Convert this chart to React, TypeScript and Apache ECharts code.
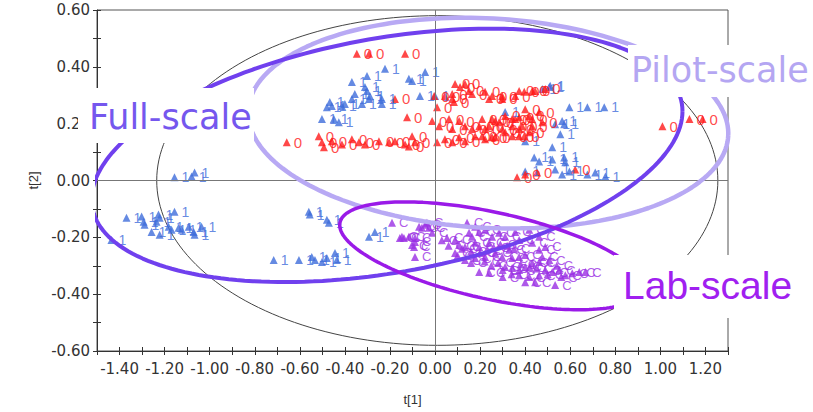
import React, { useEffect, useRef } from "react";
import * as echarts from "echarts";

// ---- Axis ranges / ticks ----
const xRange = [-1.5, 1.3];
const yRange = [-0.6, 0.6];
const tickStep = 0.1;

// ---- Group labels (marker text) ----
const fullLabel = "1";
const pilotLabel = "0";
const labLabel = "C";

// ---- Full-scale (blue) scores [t1, t2] ----
const fullScale: [number, number][] = [
  [-1.156, 0.011], [-1.08, 0.014], [-1.067, 0.028],
  [-1.369, -0.131], [-1.302, -0.127], [-1.293, -0.145], [-1.289, -0.156],
  [-1.236, -0.145], [-1.227, -0.12], [-1.222, -0.131],
  [-1.258, -0.181], [-1.222, -0.191],
  [-1.182, -0.163], [-1.169, -0.173], [-1.156, -0.11],
  [-1.138, -0.166], [-1.124, -0.173], [-1.093, -0.163], [-1.071, -0.181], [-1.067, -0.191],
  [-1.036, -0.163], [-1.436, -0.209],
  [-0.56, -0.11], [-0.556, -0.12], [-0.48, -0.138], [-0.471, -0.149],
  [-0.293, -0.198], [-0.267, -0.181],
  [-0.716, -0.28], [-0.604, -0.28], [-0.547, -0.269], [-0.533, -0.28], [-0.502, -0.287],
  [-0.48, -0.273], [-0.444, -0.255], [-0.436, -0.28],
  [-0.222, 0.393], [-0.302, 0.368], [-0.116, 0.358], [-0.102, 0.35], [-0.044, 0.382],
  [-0.369, 0.347], [-0.311, 0.329], [-0.302, 0.315], [-0.356, 0.304], [-0.369, 0.287],
  [-0.289, 0.297], [-0.293, 0.287], [-0.467, 0.276], [-0.48, 0.258], [-0.458, 0.262],
  [-0.413, 0.262], [-0.4, 0.269], [-0.324, 0.269], [-0.236, 0.287], [-0.236, 0.269],
  [-0.502, 0.216], [-0.449, 0.216], [-0.427, 0.205], [-0.067, 0.297], [0.0, 0.297],
  [0.511, 0.333], [0.596, 0.258], [0.676, 0.258], [0.751, 0.258], [0.533, 0.198],
  [0.564, 0.209], [0.573, 0.198], [0.556, 0.163], [0.4, 0.138], [0.52, 0.117],
  [0.44, 0.081], [0.462, 0.067], [0.52, 0.074], [0.573, 0.081], [0.578, 0.064],
  [0.4, 0.032], [0.533, 0.039], [0.564, 0.021], [0.596, 0.032], [0.676, 0.021],
  [0.711, 0.028], [0.756, 0.014], [0.311, 0.241], [0.476, 0.322], [0.507, 0.329],
];

// ---- Pilot-scale (red) scores ----
const pilotScale: [number, number][] = [
  [-0.347, 0.446], [-0.293, 0.446], [-0.133, 0.446],
  [-0.178, 0.287], [-0.124, 0.223], [-0.658, 0.135], [-0.516, 0.156], [-0.502, 0.135],
  [-0.493, 0.117], [-0.458, 0.138], [-0.413, 0.127], [-0.369, 0.145], [-0.338, 0.135],
  [-0.311, 0.127], [-0.249, 0.138], [-0.204, 0.135], [-0.178, 0.138], [-0.133, 0.127],
  [-0.116, 0.12], [-0.102, 0.156], [-0.089, 0.135], [-0.004, 0.297], [0.009, 0.258],
  [0.009, 0.135], [0.044, 0.297], [0.076, 0.304], [0.089, 0.34], [0.111, 0.329],
  [0.133, 0.34], [0.151, 0.315], [0.164, 0.304], [0.076, 0.287], [0.084, 0.276],
  [0.222, 0.312], [0.253, 0.297], [0.298, 0.297], [0.373, 0.315], [0.431, 0.315],
  [0.489, 0.322], [-0.013, 0.209], [0.018, 0.191], [0.062, 0.216], [0.076, 0.181],
  [0.107, 0.209], [0.133, 0.191], [0.164, 0.181], [0.196, 0.191], [0.222, 0.181],
  [0.253, 0.216], [0.284, 0.205], [0.311, 0.227], [0.342, 0.216], [0.373, 0.223],
  [0.4, 0.251], [0.431, 0.216], [0.462, 0.241], [0.476, 0.205], [0.044, 0.145],
  [0.076, 0.135], [0.107, 0.152], [0.133, 0.138], [0.178, 0.156], [0.222, 0.145],
  [0.267, 0.152], [0.311, 0.17], [0.342, 0.156], [0.373, 0.181], [0.418, 0.17],
  [0.24, 0.287], [0.298, 0.287], [0.356, 0.297], [0.396, 0.312], [0.444, 0.315],
  [0.209, 0.216], [0.24, 0.191], [0.267, 0.209], [0.298, 0.181], [0.342, 0.191],
  [0.356, 0.216], [0.387, 0.191], [0.418, 0.227], [0.431, 0.191], [0.209, 0.156],
  [0.253, 0.152], [0.373, 0.156], [0.396, 0.156], [1.009, 0.191], [1.129, 0.216],
  [1.187, 0.216], [0.4, 0.021], [0.453, 0.028], [0.364, 0.011], [0.622, 0.039],
];

// ---- Lab-scale (purple) scores ----
const labScale: [number, number][] = [
  [-0.191, -0.149], [-0.147, -0.198], [-0.116, -0.198], [-0.089, -0.202], [-0.102, -0.227],
  [-0.089, -0.216], [-0.089, -0.269], [-0.071, -0.163], [-0.044, -0.156], [-0.036, -0.149],
  [-0.013, -0.184], [0.053, -0.202], [0.142, -0.149], [0.089, -0.209], [0.107, -0.227],
  [0.133, -0.234], [0.089, -0.255], [0.151, -0.184], [0.164, -0.198], [0.196, -0.181],
  [0.178, -0.219], [0.196, -0.234], [0.24, -0.219], [0.253, -0.198], [0.284, -0.184],
  [0.311, -0.198], [0.356, -0.181], [0.418, -0.173], [0.133, -0.28], [0.178, -0.273],
  [0.222, -0.269], [0.267, -0.255], [0.298, -0.269], [0.329, -0.244], [0.342, -0.273],
  [0.373, -0.269], [0.4, -0.262], [0.196, -0.322], [0.311, -0.304], [0.342, -0.308],
  [0.373, -0.315], [0.4, -0.304], [0.431, -0.29], [0.462, -0.287], [0.476, -0.269],
  [0.507, -0.28], [0.373, -0.333], [0.418, -0.34], [0.462, -0.333], [0.4, -0.358],
  [0.444, -0.358], [0.489, -0.315], [0.52, -0.322], [0.551, -0.315], [0.533, -0.368],
  [0.578, -0.333], [0.609, -0.326], [0.64, -0.322], [0.667, -0.322], [0.178, -0.163],
  [0.222, -0.173], [0.373, -0.209], [0.431, -0.219], [0.462, -0.198], [0.462, -0.244],
  [0.489, -0.234], [-0.156, -0.202], [-0.138, -0.202], [-0.093, -0.234], [-0.058, -0.166],
  [-0.027, -0.166], [0.12, -0.24], [0.16, -0.25], [0.2, -0.255], [0.23, -0.245],
  [0.26, -0.235], [0.29, -0.225], [0.32, -0.23], [0.35, -0.24], [0.28, -0.29],
  [0.25, -0.3], [0.22, -0.285], [0.3, -0.315], [0.34, -0.33], [0.38, -0.295],
  [0.42, -0.305], [0.45, -0.31], [0.5, -0.33], [0.54, -0.3], [0.56, -0.34],
  [0.16, -0.29], [0.1, -0.265], [0.06, -0.23], [0.03, -0.21], [0.24, -0.325], [0.3, -0.34],
];

// ---- Ellipses: centre and two conjugate semi-axis vectors (data units) ----
const hotelling = { c: [0.01, 0], a: [1.245, 0], b: [0, 0.58] };
const fullEllipse = { c: [-0.213, 0.0885], a: [1.311, 0.155], b: [0, 0.418] };
const pilotEllipse = { c: [0.236, 0.202], a: [1.065, -0.0446], b: [-0.024, -0.368] };
const labEllipse = { c: [0.253, -0.265], a: [0.676, -0.108], b: [0, -0.156] };

function ellipsePoints(e: { c: number[]; a: number[]; b: number[] }, n = 200) {
  const pts: [number, number][] = [];
  for (let i = 0; i <= n; i++) {
    const t = (2 * Math.PI * i) / n;
    pts.push([
      e.c[0] + e.a[0] * Math.cos(t) + e.b[0] * Math.sin(t),
      e.c[1] + e.a[1] * Math.cos(t) + e.b[1] * Math.sin(t),
    ]);
  }
  return pts;
}

const labelFmt = (v: number) => {
  const k = Math.round(v * 10);
  if (k % 2 !== 0) return "";
  return (Math.round(v * 100) / 100 + 0).toFixed(2);
};

const axisFont = { fontFamily: "DejaVu Sans", fontSize: 15, color: "#333" };

function scatter(name: string, data: [number, number][], color: string, text: string, fs: number) {
  return {
    name,
    type: "scatter",
    data,
    symbol: "triangle",
    symbolSize: 8,
    itemStyle: { color },
    z: 3,
    label: {
      show: true,
      position: "right",
      distance: 3,
      formatter: text,
      color,
      fontFamily: "Liberation Sans",
      fontSize: fs,
    },
  };
}

function ellipseSeries(e: any, color: string, width: number, z: number) {
  return {
    type: "line",
    data: ellipsePoints(e),
    showSymbol: false,
    symbol: "none",
    clip: false,
    smooth: false,
    z,
    lineStyle: { color, width },
    silent: true,
  };
}

function labelBox(text: string, rect: number[], tx: number, ty: number, font: string, color: string) {
  return {
    type: "group",
    z: 100,
    children: [
      { type: "rect", shape: { x: rect[0], y: rect[1], width: rect[2], height: rect[3] }, style: { fill: "#fff" }, z: 100 },
      {
        type: "text",
        x: tx,
        y: ty,
        z: 101,
        style: { text, font, fill: color, align: "left", verticalAlign: "middle" },
      },
    ],
  };
}

export default function App() {
  const ref = useRef<HTMLDivElement>(null);
  useEffect(() => {
    if (!ref.current) return;
    const chart = echarts.init(ref.current, null, { renderer: "svg" });
    chart.setOption({
      animation: false,
      backgroundColor: "#fff",
      grid: { left: 97, right: 85, top: 10, bottom: 61, show: true, borderColor: "#555", borderWidth: 1 },
      xAxis: [
        {
          type: "value",
          min: xRange[0],
          max: xRange[1],
          interval: tickStep,
          position: "bottom",
          splitLine: { show: false },
          axisLine: { onZero: false, lineStyle: { color: "#333" } },
          axisTick: { length: 4, lineStyle: { color: "#333" } },
          axisLabel: { ...axisFont, formatter: labelFmt, margin: 10 },
          name: "t[1]",
          nameLocation: "middle",
          nameGap: 42,
          nameTextStyle: { fontFamily: "Liberation Sans", fontSize: 13, color: "#333" },
        },
        {
          type: "value",
          min: xRange[0],
          max: xRange[1],
          interval: tickStep,
          position: "bottom",
          offset: 0,
          splitLine: { show: false },
          axisLine: { show: false, onZero: false },
          axisTick: { inside: true, length: 4, lineStyle: { color: "#333" } },
          axisLabel: { show: false },
        },
      ],
      yAxis: [
        {
          type: "value",
          min: yRange[0],
          max: yRange[1],
          interval: tickStep,
          position: "left",
          splitLine: { show: false },
          axisLine: { onZero: false, lineStyle: { color: "#333" } },
          axisTick: { length: 4, lineStyle: { color: "#333" } },
          axisLabel: { ...axisFont, formatter: labelFmt, margin: 7 },
          name: "t[2]",
          nameLocation: "middle",
          nameGap: 56,
          nameTextStyle: { fontFamily: "Liberation Sans", fontSize: 13, color: "#333" },
        },
        {
          type: "value",
          min: yRange[0],
          max: yRange[1],
          interval: tickStep,
          position: "left",
          offset: 0,
          splitLine: { show: false },
          axisLine: { show: false, onZero: false },
          axisTick: { inside: true, length: 4, lineStyle: { color: "#333" } },
          axisLabel: { show: false },
        },
      ],
      series: [
        {
          ...ellipseSeries(hotelling, "#444", 1, 1),
          markLine: {
            silent: true,
            symbol: "none",
            label: { show: false },
            lineStyle: { color: "#777", width: 1, type: "solid" },
            data: [{ xAxis: 0 }, { yAxis: 0 }],
          },
        },
        scatter("Full-scale", fullScale, "#3f6ddb", fullLabel, 14),
        scatter("Pilot-scale", pilotScale, "#ff1a1a", pilotLabel, 15),
        scatter("Lab-scale", labScale, "#9a30e4", labLabel, 13),
        ellipseSeries(pilotEllipse, "#b8a9f4", 4.5, 5),
        ellipseSeries(fullEllipse, "#7040ee", 4, 6),
        ellipseSeries(labEllipse, "#9a1ae8", 3.5, 7),
      ],
      graphic: [
        labelBox("Full-scale", [78, 88, 176, 55], 89, 117, "35px 'DejaVu Sans'", "#7557ee"),
        labelBox("Pilot-scale", [628, 45, 185, 52], 631, 70, "35px 'DejaVu Sans'", "#b4a6f2"),
        labelBox("Lab-scale", [614, 255, 199, 63], 623, 285, "39px 'Liberation Sans'", "#a020f0"),
      ],
    });
    return () => chart.dispose();
  }, []);
  return <div ref={ref} style={{ width: 813, height: 412, position: "absolute", left: 0, top: 0 }} />;
}
